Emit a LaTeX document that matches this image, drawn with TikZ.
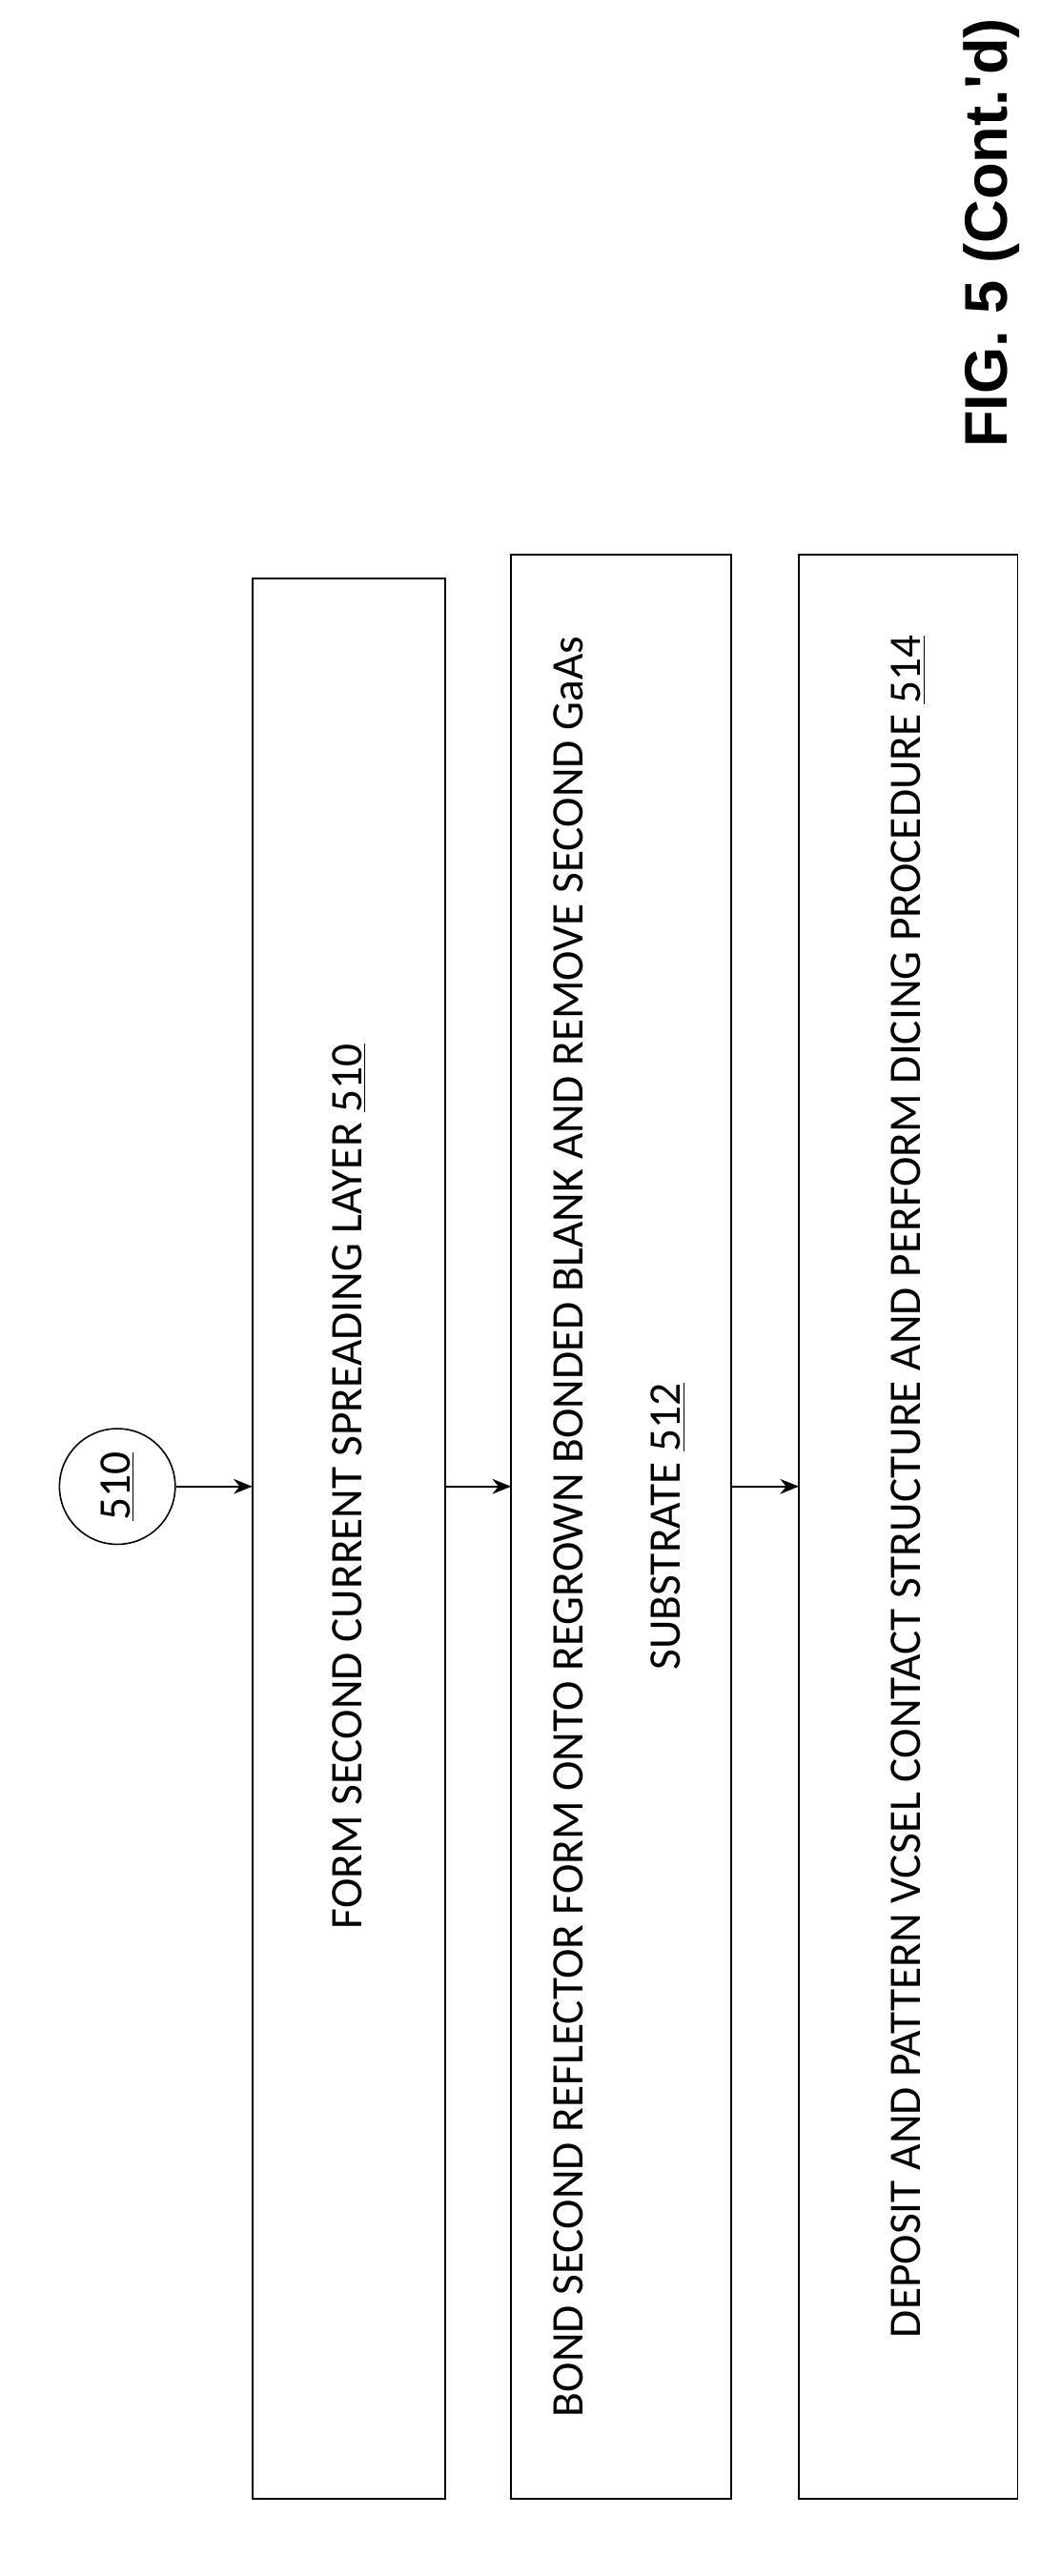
\documentclass[tikz,border=0pt]{standalone}
\usepackage{fontspec}
\setmainfont{Carlito}
\newfontfamily\titlefont{Liberation Sans}
\usetikzlibrary{arrows.meta}
\tikzset{
  boxtext/.style={rotate=90,font=\fontsize{24}{52}\selectfont,align=center},
  flow/.style={-{Stealth[length=10pt,width=8pt]},thick}
}
\begin{document}
\begin{tikzpicture}[x=0.03cm,y=-0.03cm]
  \useasboundingbox (0,0) rectangle (660,1603);
  % title
  \node[rotate=90,font=\titlefont\bfseries\fontsize{32}{38}\selectfont,anchor=center] (title) at (617,145) {FIG. 5 (Cont.'d)};
  % boxes
  \draw[thick] (157,360) rectangle (277,1555);
  \draw[thick] (318,345) rectangle (455,1555);
  \draw[thick] (497,345) rectangle (633,1555);
  \coordinate (b1l) at (157,925); \coordinate (b1r) at (277,925);
  \coordinate (b2l) at (318,925); \coordinate (b2r) at (455,925);
  \coordinate (b3l) at (497,925);
  \node[boxtext] (s510) at (217,925) {FORM SECOND CURRENT SPREADING LAYER \underline{510}};
  \node[boxtext] (s512) at (385,950) {BOND SECOND REFLECTOR FORM ONTO REGROWN BONDED BLANK AND REMOVE SECOND GaAs\\SUBSTRATE \underline{512}};
  \node[boxtext] (s514) at (565,925) {DEPOSIT AND PATTERN VCSEL CONTACT STRUCTURE AND PERFORM DICING PROCEDURE \underline{514}};
  % connector
  \node[draw,thick,circle,minimum size=72*0.03cm,inner sep=0pt,rotate=90,font=\fontsize{24}{30}\selectfont] (c510) at (73,925) {\underline{510}};
  \draw[flow] (c510) -- (b1l);
  \draw[flow] (b1r) -- (b2l);
  \draw[flow] (b2r) -- (b3l);
\end{tikzpicture}
\end{document}
